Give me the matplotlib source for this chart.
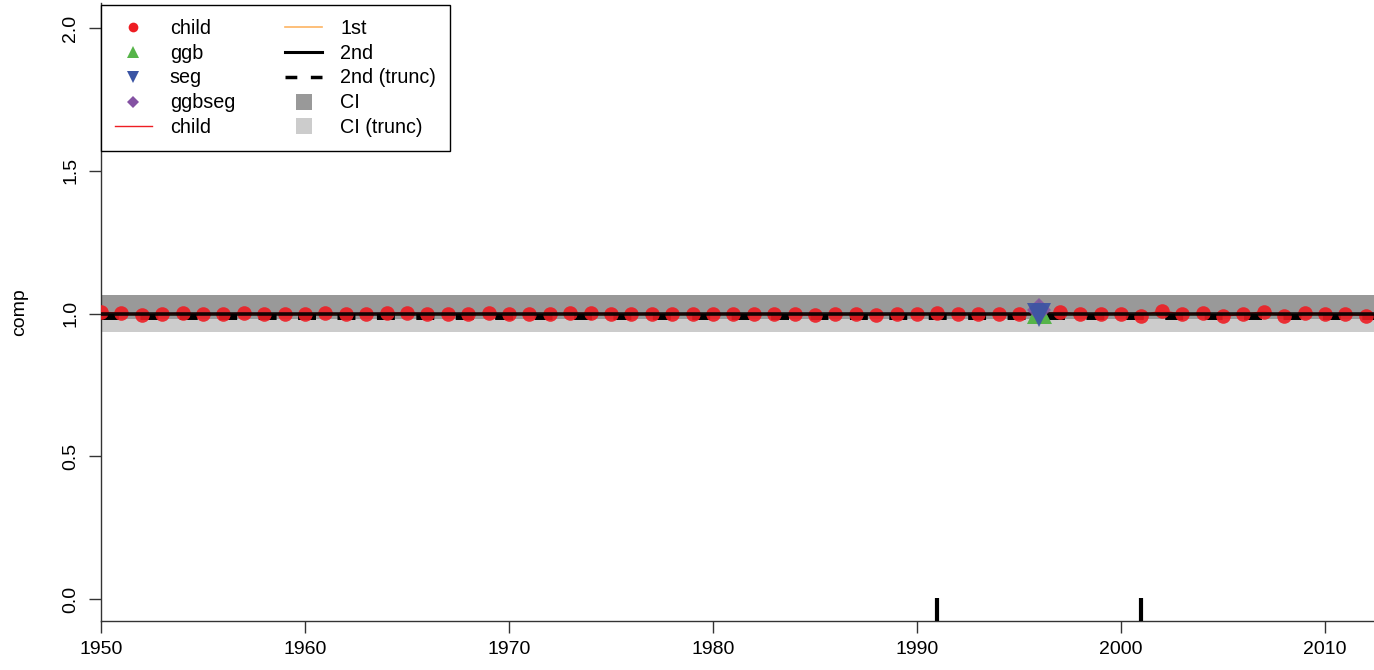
import numpy as np
import matplotlib as mpl
import matplotlib.pyplot as plt
from matplotlib.lines import Line2D

plt.rcParams['font.family'] = ['Liberation Sans', 'DejaVu Sans']

# data
years = list(range(1950, 2014))
child = [1.005, 1.001, 0.995, 0.999, 1.001, 0.999, 0.999, 1.001, 0.999, 0.999,
         0.999, 1.001, 0.999, 0.999, 1.001, 1.003, 0.999, 0.999, 0.999, 1.001,
         0.999, 0.997, 0.997, 1.001, 1.001, 0.999, 0.997, 0.999, 0.997, 0.999,
         0.999, 0.999, 0.999, 0.999, 0.997, 0.994, 0.997, 0.997, 0.994, 0.999,
         0.997, 1.001, 0.999, 0.997, 0.999, 0.999, 0.999, 1.005, 0.997, 0.999,
         0.999, 0.993, 1.010, 0.997, 1.001, 0.991, 0.997, 1.007, 0.991, 1.001,
         0.999, 0.997, 0.993, 0.999]
first_est = [1.0] * len(years)
second_est = [0.997] * len(years)
second_trunc = [0.988] * len(years)
ci_lower = [0.980] * len(years)
ci_upper = [1.066] * len(years)
ci_trunc_lower = [0.935] * len(years)
ci_trunc_upper = [1.040] * len(years)

other_year = [1996]
ggb = [1.010]
seg = [0.996]
ggbseg = [1.012]

rug_years = [1991, 2001]

red = '#EE1D23'
green = '#56B449'
blue = '#3A54A4'
purple = '#8452A3'
orange = '#FDB462'
dark_grey = '#999999'
light_grey = '#CCCCCC'

fig = plt.figure(figsize=(13.74, 6.70), dpi=100)
ax = fig.add_axes([101/1374, 49/670, 1 - 101/1374, 618/670])

# confidence bands
ax.fill_between(years, ci_trunc_lower, ci_trunc_upper, color=light_grey, lw=0, zorder=1)
ax.fill_between(years, ci_lower, ci_upper, color=dark_grey, lw=0, zorder=2)

# estimate lines
ax.plot(years, first_est, color=orange, lw=1, zorder=3)
ax.plot(years, child, color=red, lw=1, zorder=3)
ax.plot(years, second_trunc, color='black', lw=4.3, dashes=(3.0, 3.6),
        solid_capstyle='butt', zorder=4)
ax.plot(years, child, 'o', color=red, ms=10.5, mew=0, alpha=0.9, zorder=5)
ax.plot(years, second_est, color='black', lw=2.6, alpha=0.9, zorder=6)

# other methods
ax.plot(other_year, ggb, '^', color=green, ms=18, mew=0, zorder=7)
ax.plot(other_year, ggbseg, 'D', color=purple, ms=12.5, mew=0, alpha=0.85, zorder=8)
ax.plot(other_year, seg, 'v', color=blue, ms=17, mew=0, alpha=0.9, zorder=9)

# rug of breakpoints
ax.vlines(rug_years, -0.08, 0.005, color='black', lw=3, zorder=10)

ax.set_xlim(1950, 1950 + 1273/20.4)
ax.set_ylim(-0.077, 2.088)

ax.spines['top'].set_visible(False)
ax.spines['right'].set_visible(False)
for s in ['left', 'bottom']:
    ax.spines[s].set_linewidth(1)
    ax.spines[s].set_color('#333333')

ax.set_xticks([1950, 1960, 1970, 1980, 1990, 2000, 2010])
ax.set_yticks([0.0, 0.5, 1.0, 1.5, 2.0])
ax.set_yticklabels(['0.0', '0.5', '1.0', '1.5', '2.0'], rotation=90, va='center')
ax.tick_params(axis='both', length=8.5, width=1, color='#333333', labelsize=14)
ax.tick_params(axis='x', pad=6)
ax.tick_params(axis='y', pad=7)
ax.set_ylabel('comp', fontsize=14)
ax.yaxis.set_label_coords(-0.0573, 0.5)

# legend
handles = [
    Line2D([], [], ls='none', marker='o', color=red, ms=7, mew=0),
    Line2D([], [], ls='none', marker='^', color=green, ms=9, mew=0),
    Line2D([], [], ls='none', marker='v', color=blue, ms=9, mew=0),
    Line2D([], [], ls='none', marker='D', color=purple, ms=6, mew=0),
    Line2D([], [], color=red, lw=1),
    Line2D([], [], color=orange, lw=1.2),
    Line2D([], [], color='black', lw=2.2),
    Line2D([], [], color='black', lw=2.5, dashes=(3.4, 3.9)),
    Line2D([], [], ls='none', marker='s', color=dark_grey, ms=11, mew=0),
    Line2D([], [], ls='none', marker='s', color=light_grey, ms=11, mew=0),
]
labels = ['child', 'ggb', 'seg', 'ggbseg', 'child',
          '1st', '2nd', '2nd (trunc)', 'CI', 'CI (trunc)']
leg = ax.legend(handles, labels, ncol=2, loc='upper left', bbox_to_anchor=(0, 0.997),
                borderaxespad=0, fontsize=14.2, frameon=True, fancybox=False,
                framealpha=1, edgecolor='black', handlelength=1.88, handletextpad=0.91,
                columnspacing=2.54, labelspacing=0.3, borderpad=0.7)
leg.get_frame().set_linewidth(1)
leg.set_zorder(20)

fig.savefig('out.png', dpi=100)
